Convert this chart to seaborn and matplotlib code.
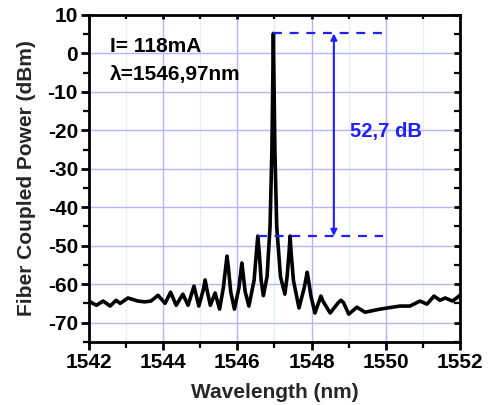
import matplotlib
matplotlib.use("Agg")
import matplotlib.pyplot as plt
from matplotlib.ticker import MultipleLocator
import seaborn as sns
import pandas as pd

wavelength = [1542.00, 1542.10, 1542.20, 1542.38, 1542.57, 1542.73, 1542.84, 1543.05,
              1543.32, 1543.50, 1543.67, 1543.86, 1544.05, 1544.20, 1544.35, 1544.53,
              1544.67, 1544.83, 1544.96, 1545.08, 1545.13, 1545.18, 1545.27, 1545.40,
              1545.52, 1545.62, 1545.68, 1545.72, 1545.76, 1545.82, 1545.92, 1546.04,
              1546.09, 1546.12, 1546.15, 1546.21, 1546.31, 1546.45, 1546.51, 1546.55,
              1546.59, 1546.64, 1546.70, 1546.80, 1546.88, 1546.93, 1546.97, 1547.01,
              1547.06, 1547.16, 1547.28, 1547.34, 1547.39, 1547.42, 1547.45, 1547.51,
              1547.66, 1547.80, 1547.85, 1547.88, 1547.91, 1547.98, 1548.09, 1548.20,
              1548.25, 1548.31, 1548.50, 1548.72, 1548.79, 1548.86, 1549.00, 1549.22,
              1549.44, 1549.84, 1550.38, 1550.65, 1550.92, 1551.11, 1551.30, 1551.46,
              1551.60, 1551.80, 1552.00]
power = [-64.4, -65.0, -65.5, -64.4, -65.7, -64.2, -65.0, -63.6,
         -64.4, -64.6, -64.4, -62.9, -65.0, -62.1, -65.5, -62.6,
         -65.5, -60.5, -65.7, -61.5, -58.9, -61.5, -65.5, -62.3,
         -66.5, -61.0, -56.0, -52.7, -56.0, -62.0, -66.5, -61.0,
         -57.0, -54.5, -57.0, -62.0, -65.7, -59.0, -52.0, -47.5,
         -52.0, -59.0, -63.0, -58.0, -45.0, -25.0, 5.2, -25.0,
         -45.0, -58.0, -62.6, -58.0, -52.0, -47.5, -52.0, -59.0,
         -66.2, -61.0, -58.5, -56.9, -58.5, -63.0, -67.5, -64.5,
         -63.1, -64.5, -67.5, -64.8, -64.2, -64.8, -67.8, -66.0,
         -67.3, -66.5, -65.7, -65.7, -64.4, -65.2, -63.1, -64.2,
         -63.6, -64.4, -62.9]

peak_level = 5.2
sidemode_level = -47.5
smsr_label = "52,7 dB"
current_label = "I= 118mA"
lambda_label = "λ=1546,97nm"

df = pd.DataFrame({"Wavelength (nm)": wavelength, "Fiber Coupled Power (dBm)": power})

sns.set_style("white")
plt.rcParams["font.family"] = ["Liberation Sans", "DejaVu Sans"]
plt.rcParams["font.weight"] = "bold"
plt.rcParams["axes.unicode_minus"] = False
plt.rcParams.update({
    "xtick.bottom": True, "ytick.left": True,
    "xtick.top": True, "ytick.right": True,
    "xtick.major.size": 6, "ytick.major.size": 6,
    "xtick.minor.size": 4, "ytick.minor.size": 4,
    "xtick.major.width": 2.0, "ytick.major.width": 2.0,
    "xtick.minor.width": 1.6, "ytick.minor.width": 1.6,
    "xtick.direction": "out", "ytick.direction": "out",
    "xtick.color": "black", "ytick.color": "black",
})

fig = plt.figure(figsize=(5.0, 4.05), dpi=100)
ax = fig.add_axes([0.178, 0.156, 0.742, 0.807])

blue = "#1f1fff"
ax.set_xlim(1542, 1552)
ax.set_ylim(-75, 10)
ax.xaxis.set_major_locator(MultipleLocator(2))
ax.xaxis.set_minor_locator(MultipleLocator(1))
ax.yaxis.set_major_locator(MultipleLocator(10))
ax.yaxis.set_minor_locator(MultipleLocator(5))
ax.set_yticks(range(-70, 11, 10))
ax.grid(True, which="major", color="#b4b4ff", linewidth=1.0)
ax.grid(True, which="minor", axis="x", color="#e2f5e2", linewidth=1.0)
ax.set_axisbelow(True)

sns.lineplot(data=df, x="Wavelength (nm)", y="Fiber Coupled Power (dBm)",
             color="black", linewidth=2.6, ax=ax, solid_joinstyle="round")

# SMSR markers
ax.plot([1546.97, 1549.92], [peak_level, peak_level], color=blue, lw=1.6,
        dashes=(4, 3.5))
ax.plot([1546.55, 1549.92], [sidemode_level, sidemode_level], color=blue, lw=1.6,
        dashes=(4, 3.5))
ax.annotate("", xy=(1548.6, peak_level), xytext=(1548.6, sidemode_level),
            arrowprops=dict(arrowstyle="<|-|>", color=blue, lw=1.5,
                            mutation_scale=9, shrinkA=0, shrinkB=0))
ax.text(1549.03, -20.3, smsr_label, color=blue, fontsize=14.5, fontweight="bold",
        va="center", ha="left")
ax.text(1542.57, 1.8, current_label, color="black", fontsize=15, fontweight="bold",
        va="center", ha="left")
ax.text(1542.57, -5.5, lambda_label, color="black", fontsize=15, fontweight="bold",
        va="center", ha="left")

for s in ax.spines.values():
    s.set_color("black")
    s.set_linewidth(2.0)
    s.set_visible(True)

ax.tick_params(axis="both", which="both", labelsize=15, pad=2)
# top/right ticks pointing inward
for t in ax.xaxis.get_major_ticks() + ax.xaxis.get_minor_ticks():
    t.tick2line.set_marker(3)
    t.tick2line.set_markersize(3)
for t in ax.yaxis.get_major_ticks() + ax.yaxis.get_minor_ticks():
    t.tick2line.set_marker(0)
    t.tick2line.set_markersize(4)

for lab in ax.get_xticklabels() + ax.get_yticklabels():
    lab.set_fontweight("bold")

ax.set_xlabel("Wavelength (nm)", fontsize=15, fontweight="bold", labelpad=8)
ax.set_ylabel("Fiber Coupled Power (dBm)", fontsize=15, fontweight="bold", labelpad=8)

fig.savefig("out.png", dpi=100, facecolor="white")
